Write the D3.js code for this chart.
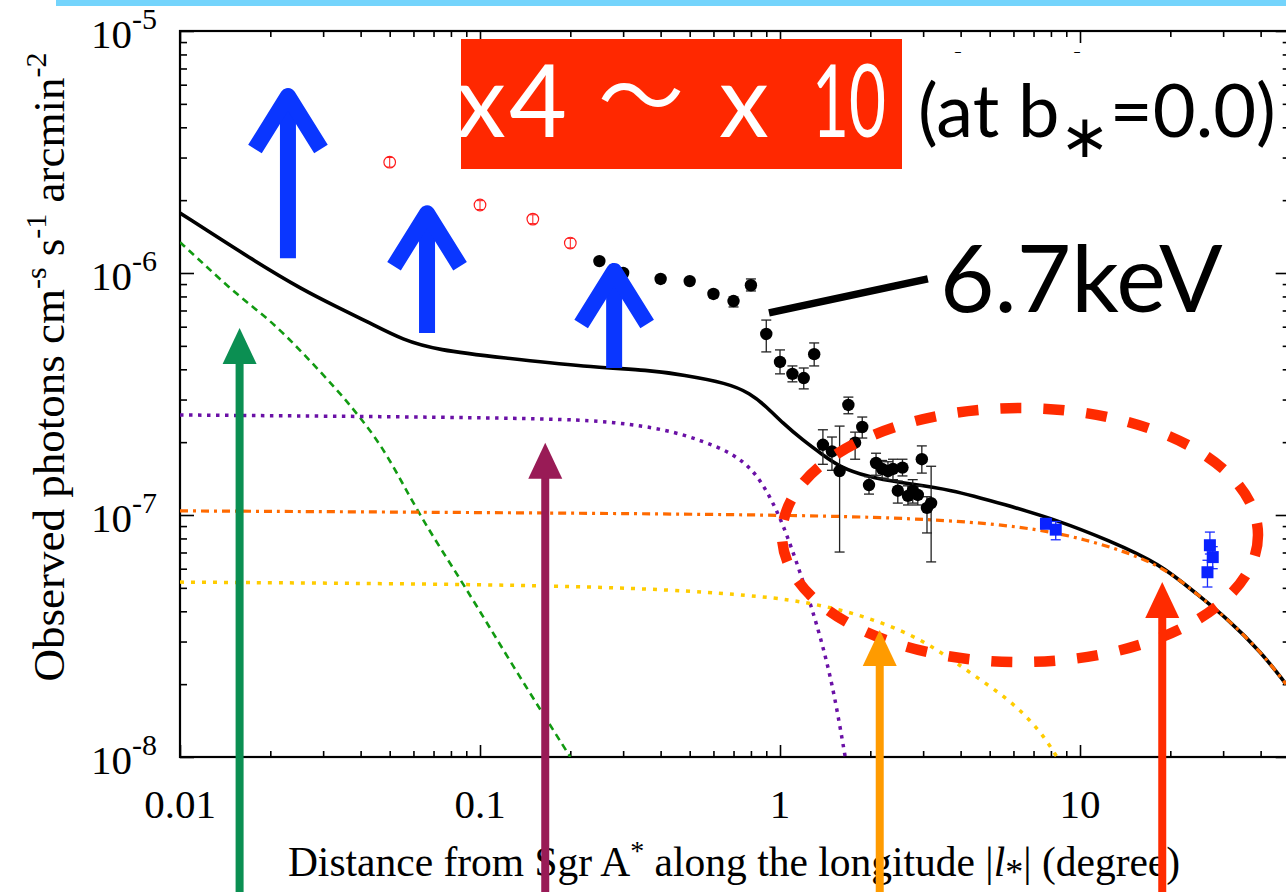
<!DOCTYPE html>
<html>
<head>
<meta charset="utf-8">
<script src="https://cdn.jsdelivr.net/npm/d3@7"></script>
<style>
  body { margin: 0; background: #fff; }
  svg { display: block; }
  .tick line { stroke: #000; stroke-width: 1.6; }
</style>
</head>
<body>
<div id="chart"></div>
<script>
// ---- data ----
// model curves (degree, photons cm^-2 s^-1 arcmin^-2)
const totalX = [0.01, 0.0175, 0.0257, 0.0334, 0.0430, 0.0554, 0.0719, 0.119, 0.227, 0.369, 0.475, 0.666, 0.794, 0.905, 1.02, 1.19, 1.39, 1.58, 1.95, 2.51, 3.69, 5.67, 8.38, 12.4, 18.5, 24.0, 31.1, 40.4, 48.6];
const totalY = [1.77e-6, 1.13e-6, 8.51e-7, 7.24e-7, 6.21e-7, 5.28e-7, 4.81e-7, 4.46e-7, 4.09e-7, 3.97e-7, 3.79e-7, 3.51e-7, 3.19e-7, 2.79e-7, 2.40e-7, 2.04e-7, 1.77e-7, 1.58e-7, 1.44e-7, 1.36e-7, 1.28e-7, 1.10e-7, 9.53e-8, 7.88e-8, 6.28e-8, 4.81e-8, 3.72e-8, 2.69e-8, 2.0e-8];

const greenX = [0.01, 0.0119, 0.0155, 0.02, 0.0257, 0.0334, 0.0398, 0.049, 0.0631, 0.0878, 0.129, 0.2];
const greenY = [1.34e-6, 1.10e-6, 8.11e-7, 6.39e-7, 4.67e-7, 3.29e-7, 2.54e-7, 1.80e-7, 9.82e-8, 5.24e-8, 2.36e-8, 1.0e-8];

const purpleX = [0.01, 0.171, 0.286, 0.42, 0.541, 0.697, 0.838, 0.977, 1.08, 1.27, 1.41, 1.52, 1.65];
const purpleY = [2.59e-7, 2.52e-7, 2.42e-7, 2.25e-7, 2.04e-7, 1.80e-7, 1.49e-7, 1.05e-7, 7.66e-8, 4.25e-8, 2.69e-8, 1.80e-8, 1.0e-8];

const orangeX = [0.01, 0.794, 2.97, 6.46, 10.9, 18.5, 24.0, 31.1, 40.4, 48.6];
const orangeY = [1.04e-7, 1.01e-7, 9.7e-8, 9.0e-8, 7.88e-8, 6.28e-8, 4.81e-8, 3.72e-8, 2.69e-8, 2.0e-8];

const yellowX = [0.01, 0.251, 0.794, 1.17, 1.74, 2.59, 3.36, 4.37, 5.84, 7.36, 8.38];
const yellowY = [5.28e-8, 5.14e-8, 4.67e-8, 4.41e-8, 3.97e-8, 3.32e-8, 2.77e-8, 2.20e-8, 1.72e-8, 1.29e-8, 1.0e-8];

// observed points
const redX = [0.05, 0.1, 0.15, 0.2];
const redY = [2.87e-6, 1.91e-6, 1.67e-6, 1.33e-6];
const redLo = [2.74e-6, 1.83e-6, 1.60e-6, 1.27e-6];
const redHi = [3.0e-6, 1.99e-6, 1.74e-6, 1.39e-6];

const blackX = [0.25, 0.30, 0.40, 0.50, 0.60, 0.70, 0.80, 0.90, 1.0, 1.1, 1.2, 1.3,
  1.39, 1.49, 1.58, 1.69, 1.78, 1.88, 1.98, 2.09, 2.19, 2.29, 2.38, 2.56, 2.47, 2.67, 2.77, 2.88, 2.97, 3.09, 3.19];
const blackY = [1.12e-6, 1.00e-6, 9.45e-7, 9.26e-7, 8.19e-7, 7.66e-7, 8.9e-7, 5.6e-7, 4.29e-7, 3.83e-7, 3.68e-7, 4.62e-7,
  1.95e-7, 1.83e-7, 1.52e-7, 2.85e-7, 1.99e-7, 2.31e-7, 1.33e-7, 1.64e-7, 1.55e-7, 1.52e-7, 1.55e-7, 1.57e-7, 1.26e-7, 1.20e-7, 1.26e-7, 1.21e-7, 1.70e-7, 1.07e-7, 1.12e-7];
const blackLo = [1.09e-6, 0.97e-6, 9.2e-7, 9.0e-7, 7.95e-7, 7.24e-7, 8.43e-7, 4.72e-7, 3.83e-7, 3.55e-7, 3.32e-7, 4.13e-7,
  1.62e-7, 1.53e-7, 7.03e-8, 2.62e-7, 1.70e-7, 2.08e-7, 1.22e-7, 1.46e-7, 1.42e-7, 1.40e-7, 1.40e-7, 1.45e-7, 1.12e-7, 1.10e-7, 1.12e-7, 1.10e-7, 1.49e-7, 8.43e-8, 6.4e-8];
const blackHi = [1.15e-6, 1.03e-6, 9.7e-7, 9.5e-7, 8.45e-7, 7.96e-7, 9.45e-7, 6.39e-7, 4.81e-7, 4.13e-7, 4.05e-7, 5.14e-7,
  2.25e-7, 2.10e-7, 2.33e-7, 3.07e-7, 2.20e-7, 2.54e-7, 1.44e-7, 1.80e-7, 1.68e-7, 1.66e-7, 1.70e-7, 1.70e-7, 1.38e-7, 1.32e-7, 1.40e-7, 1.32e-7, 1.93e-7, 1.19e-7, 1.59e-7];

const blueX = [7.7, 8.3, 27.1, 27.7, 26.6];
const blueY = [9.2e-8, 8.7e-8, 7.5e-8, 6.7e-8, 5.8e-8];
const blueLo = [8.9e-8, 7.9e-8, 6.9e-8, 6.0e-8, 5.04e-8];
const blueHi = [9.5e-8, 9.4e-8, 8.5e-8, 7.4e-8, 6.5e-8];

// annotation arrows (data coords)
const bigArrowX = [0.0229, 0.0666, 0.28];
const bigArrowTip = [5.70e-6, 1.87e-6, 1.08e-6];
const bigArrowBase = [1.15e-6, 5.65e-7, 4.05e-7];

const compArrowX = [0.0158, 0.165, 2.15, 18.8];
const compArrowTip = [5.93e-7, 1.99e-7, 3.35e-8, 5.28e-8];
const compArrowColor = ["#0b8f52", "#991b56", "#ff9b00", "#ff2b00"];

const xMajor = [0.01, 0.1, 1, 10];
const xLabels = ["0.01", "0.1", "1", "10"];
const yMajor = [1e-8, 1e-7, 1e-6, 1e-5];
const yExp = ["-8", "-7", "-6", "-5"];

// ---- layout ----
const W = 1286, H = 892;
const plotL = 180, plotT = 31, plotB = 757;
const SERIF = "'Liberation Serif', 'Times New Roman', serif";
const SANS = "Lato, 'Noto Sans', sans-serif";
const x = d3.scaleLog().domain([0.01, 50]).range([plotL, plotL + 300 * Math.log10(5000)]);
const y = d3.scaleLog().domain([1e-8, 1e-5]).range([plotB, plotT]);
const plotR = x(50);

const svg = d3.select("#chart").append("svg").attr("width", W).attr("height", H);

// light blue strip at top
svg.append("rect").attr("x", 56).attr("y", 0).attr("width", W - 56).attr("height", 6).attr("fill", "#74d4fc");

svg.append("clipPath").attr("id", "plot")
  .append("rect").attr("x", plotL).attr("y", plotT).attr("width", plotR - plotL).attr("height", plotB - plotT);

// ---- axes ----
const xMinor = x.ticks().filter(v => !xMajor.includes(v));
const yMinor = y.ticks().filter(v => !yMajor.some(m => Math.abs(m - v) / v < 1e-6));

function strip(g) { g.select(".domain").remove(); g.selectAll("text").remove(); }

svg.append("g").attr("transform", `translate(0,${plotB})`).call(d3.axisBottom(x).tickValues(xMinor).tickSize(-6)).call(strip);
svg.append("g").attr("transform", `translate(0,${plotB})`).call(d3.axisBottom(x).tickValues(xMajor).tickSize(-12)).call(strip);
svg.append("g").attr("transform", `translate(0,${plotT})`).call(d3.axisTop(x).tickValues(xMinor).tickSize(-6)).call(strip);
svg.append("g").attr("transform", `translate(0,${plotT})`).call(d3.axisTop(x).tickValues(xMajor).tickSize(-12)).call(strip);
svg.append("g").attr("transform", `translate(${plotL},0)`).call(d3.axisLeft(y).tickValues(yMinor).tickSize(-7)).call(strip);
svg.append("g").attr("transform", `translate(${plotL},0)`).call(d3.axisLeft(y).tickValues(yMajor).tickSize(-14)).call(strip);
svg.append("g").attr("transform", `translate(${plotR},0)`).call(d3.axisRight(y).tickValues(yMinor).tickSize(-7)).call(strip);
svg.append("g").attr("transform", `translate(${plotR},0)`).call(d3.axisRight(y).tickValues(yMajor).tickSize(-14)).call(strip);

svg.append("rect").attr("x", plotL).attr("y", plotT).attr("width", plotR - plotL).attr("height", plotB - plotT)
  .attr("fill", "none").attr("stroke", "#000").attr("stroke-width", 2.2);

// tick labels
svg.selectAll(".xl").data(xMajor).join("text")
  .attr("font-family", SERIF).attr("font-size", 41)
  .attr("x", d => x(d)).attr("y", plotB + 61).attr("text-anchor", "middle")
  .text((d, i) => xLabels[i]);

const yl = svg.selectAll(".yl").data(yMajor).join("text")
  .attr("font-family", SERIF).attr("font-size", 41)
  .attr("x", 157).attr("y", d => y(d) + 17).attr("text-anchor", "end");
yl.append("tspan").text("10");
yl.append("tspan").attr("dy", -19).attr("font-size", 30).text((d, i) => yExp[i]);

// axis titles
const xt = svg.append("text").attr("font-family", SERIF).attr("font-size", 41.5)
  .attr("x", 734).attr("y", 876).attr("text-anchor", "middle");
xt.append("tspan").text("Distance from Sgr A");
xt.append("tspan").attr("dy", -16).attr("font-size", 28).text("*");
xt.append("tspan").attr("dy", 16).text(" along the longitude |");
xt.append("tspan").attr("font-style", "italic").text("l");
xt.append("tspan").attr("dy", 8).attr("font-size", 36).text("*");
xt.append("tspan").attr("dy", -8).text("| (degree)");

const yt = svg.append("text").attr("font-family", SERIF).attr("font-size", 45)
  .attr("transform", "translate(64,367) rotate(-90)").attr("text-anchor", "middle");
yt.append("tspan").text("Observed photons cm");
yt.append("tspan").attr("dy", -18).attr("font-size", 30).text("-s");
yt.append("tspan").attr("dy", 18).text(" s");
yt.append("tspan").attr("dy", -18).attr("font-size", 30).text("-1");
yt.append("tspan").attr("dy", 18).text(" arcmin");
yt.append("tspan").attr("dy", -18).attr("font-size", 30).text("-2");

// ---- model curves ----
const plot = svg.append("g").attr("clip-path", "url(#plot)");
const line = d3.line().x(d => x(d[0])).y(d => y(d[1])).curve(d3.curveBasis);
const zip = (a, b) => a.map((v, i) => [v, b[i]]);

plot.append("path").attr("d", line(zip(greenX, greenY))).attr("fill", "none")
  .attr("stroke", "#119a11").attr("stroke-width", 2.6).attr("stroke-dasharray", "7 5");
plot.append("path").attr("d", line(zip(purpleX, purpleY))).attr("fill", "none")
  .attr("stroke", "#6a10a6").attr("stroke-width", 3.5).attr("stroke-dasharray", "3.5 5.5");
plot.append("path").attr("d", line(zip(yellowX, yellowY))).attr("fill", "none")
  .attr("stroke", "#ffcc00").attr("stroke-width", 3.5).attr("stroke-dasharray", "4 7");
plot.append("path").attr("d", line(zip(totalX, totalY))).attr("fill", "none")
  .attr("stroke", "#000").attr("stroke-width", 3.6);
plot.append("path").attr("d", line(zip(orangeX, orangeY))).attr("fill", "none")
  .attr("stroke", "#ff6a00").attr("stroke-width", 3.2).attr("stroke-dasharray", "8 5 3 5");

// ---- observed points ----
function errBars(g, xs, lo, hi, color, cap, w) {
  g.selectAll(null).data(xs).join("g").each(function (d, i) {
    const s = d3.select(this), cx = x(d);
    s.append("line").attr("x1", cx).attr("x2", cx).attr("y1", y(lo[i])).attr("y2", y(hi[i]));
    s.append("line").attr("x1", cx - cap).attr("x2", cx + cap).attr("y1", y(lo[i])).attr("y2", y(lo[i]));
    s.append("line").attr("x1", cx - cap).attr("x2", cx + cap).attr("y1", y(hi[i])).attr("y2", y(hi[i]));
  }).attr("stroke", color).attr("stroke-width", w);
}

const pts = svg.append("g");
errBars(pts, redX, redLo, redHi, "#ff1a1a", 3, 1);
pts.selectAll(".red").data(redX).join("circle")
  .attr("cx", d => x(d)).attr("cy", (d, i) => y(redY[i])).attr("r", 5.8)
  .attr("fill", "none").attr("stroke", "#ff1a1a").attr("stroke-width", 1.2);

errBars(pts, blackX, blackLo, blackHi, "#222", 5, 1.3);
pts.selectAll(".blk").data(blackX).join("circle")
  .attr("cx", d => x(d)).attr("cy", (d, i) => y(blackY[i])).attr("r", 6.2).attr("fill", "#000");

errBars(pts, blueX, blueLo, blueHi, "#1a2cff", 5, 1.3);
pts.selectAll(".blu").data(blueX).join("rect")
  .attr("x", d => x(d) - 6).attr("y", (d, i) => y(blueY[i]) - 6).attr("width", 12).attr("height", 12)
  .attr("fill", "#0a22ff");

// ---- annotations ----
// dashed ellipse around outer region
svg.append("ellipse").attr("cx", x(6.31)).attr("cy", y(8.26e-8)).attr("rx", 238).attr("ry", 127)
  .attr("fill", "none").attr("stroke", "#ff2b00").attr("stroke-width", 10.5).attr("stroke-dasharray", "21 22");

// 6.7 keV pointer
svg.append("line").attr("x1", x(0.919)).attr("y1", y(6.84e-7)).attr("x2", x(3.11)).attr("y2", y(9.45e-7))
  .attr("stroke", "#000").attr("stroke-width", 7.5);
svg.append("text").attr("font-family", SANS).attr("x", 940).attr("y", 312).attr("font-size", 94)
  .attr("fill", "#000").text("6.7keV");

// big blue arrows
bigArrowX.forEach((v, i) => {
  const cx = x(v), tip = y(bigArrowTip[i]), base = y(bigArrowBase[i]);
  const g = svg.append("g").attr("stroke", "#0a36ff").attr("fill", "none").attr("stroke-width", 16);
  g.append("line").attr("x1", cx).attr("x2", cx).attr("y1", base).attr("y2", tip + 8);
  g.append("path").attr("d", `M${cx - 33},${tip + 59}L${cx},${tip + 6}L${cx + 33},${tip + 59}`)
    .attr("stroke-linejoin", "round");
});

// red label box
svg.append("rect").attr("x", 461).attr("y", 39).attr("width", 441).attr("height", 130).attr("fill", "#ff2800");
const lab = svg.append("g").attr("font-family", SANS).attr("font-size", 100).attr("fill", "#fff");
lab.append("text").attr("x", 456).attr("y", 137).attr("textLength", 111).text("x4");
lab.append("text").attr("x", 598).attr("y", 128).attr("font-family", "'Noto Sans CJK JP'")
  .attr("font-size", 86).attr("textLength", 88).text("〜");
lab.append("text").attr("x", 719).attr("y", 137).attr("textLength", 48).text("x");
lab.append("text").attr("x", 812).attr("y", 137).attr("textLength", 74).attr("lengthAdjust", "spacingAndGlyphs").text("10");

// partially hidden caption
svg.append("clipPath").attr("id", "hid").append("rect").attr("x", 920).attr("y", 40).attr("width", 300).attr("height", 13);
svg.append("text").attr("font-family", SERIF).attr("clip-path", "url(#hid)").attr("x", 930).attr("y", 80)
  .attr("font-size", 40).text("This work");

const ab = svg.append("text").attr("font-family", SANS).attr("x", 918).attr("y", 137)
  .attr("font-size", 74).attr("fill", "#000");
ab.append("tspan").text("(at b");
ab.append("tspan").attr("dy", 20).attr("font-size", 60).attr("font-family", "'DejaVu Sans'").text("∗");
ab.append("tspan").attr("dy", -20).text("=0.0)");

// component arrows rising from below the frame
compArrowX.forEach((v, i) => {
  const cx = x(v), tip = y(compArrowTip[i]);
  const g = svg.append("g");
  g.append("line").attr("x1", cx).attr("x2", cx).attr("y1", H).attr("y2", tip + 30)
    .attr("stroke", compArrowColor[i]).attr("stroke-width", 8);
  g.append("path").attr("d", `M${cx},${tip}L${cx - 17},${tip + 36}L${cx + 17},${tip + 36}Z`)
    .attr("fill", compArrowColor[i]);
});
</script>
</body>
</html>
